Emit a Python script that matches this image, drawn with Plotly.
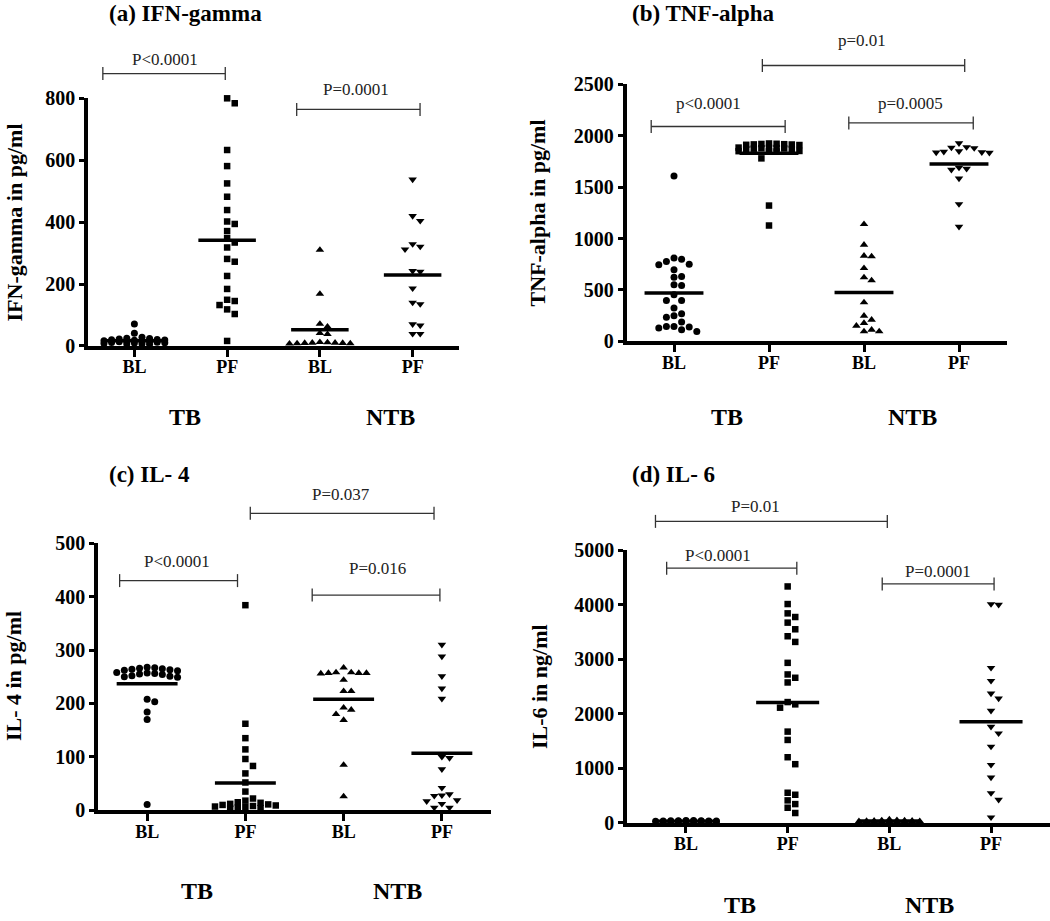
import plotly.graph_objects as go

# ---------------- data ----------------
groups = ["BL", "PF", "BL", "PF"]
cohorts = ["TB", "NTB"]

ifn_tb_bl = [71, 41, 28, 25, 24, 22, 21, 20, 19, 18, 17, 16, 15, 14, 13, 12, 11, 10, 9, 8, 7, 6, 5]
ifn_tb_pf = [800, 784, 633, 581, 525, 482, 439, 402, 394, 371, 348, 334, 318, 281, 272, 226, 184,
             149, 145, 132, 118, 103, 16]
ifn_ntb_bl = [310, 168, 71, 62, 41, 38, 12, 11, 10, 10, 9, 9, 8, 8, 7]
ifn_ntb_pf = [538, 420, 404, 329, 321, 312, 242, 240, 186, 140, 135, 70, 66, 39, 39]
ifn_means = [17, 341, 52, 229]
ifn_pvals = ["P<0.0001", "P=0.0001"]

tnf_tb_bl = [1609, 810, 800, 777, 751, 745, 696, 631, 625, 550, 544, 453, 398, 398, 324, 269, 249,
             236, 188, 146, 146, 139, 130, 113, 97]
tnf_tb_pf = [1925, 1922, 1920, 1918, 1916, 1915, 1912, 1910, 1885, 1882, 1880, 1878, 1876, 1874,
             1872, 1870, 1852, 1850, 1848, 1846, 1780, 1321, 1127]
tnf_ntb_bl = [1140, 939, 832, 826, 712, 622, 593, 379, 249, 210, 178, 152, 113, 97, 97]
tnf_ntb_pf = [1927, 1890, 1885, 1880, 1850, 1845, 1840, 1838, 1835, 1690, 1680, 1670, 1585, 1335, 1115]
tnf_means = [470, 1829, 476, 1726]
tnf_pvals = ["p<0.0001", "p=0.0005", "p=0.01"]

il4_tb_bl = [268, 267, 266, 265, 264, 263, 262, 261, 258, 257, 256, 255, 254, 252, 251, 250, 249,
             208, 203, 184, 170, 11]
il4_tb_pf = [384, 162, 135, 114, 96, 83, 69, 52, 35, 22, 18, 15, 14, 12, 11, 10, 9, 8, 7, 6, 5, 4, 3]
il4_ntb_bl = [267, 258, 258, 257, 257, 257, 256, 244, 223, 223, 192, 188, 180, 169, 85, 26]
il4_ntb_pf = [310, 288, 251, 228, 209, 100, 98, 77, 42, 30, 28, 27, 19, 17, 12, 5, 5]
il4_means = [237, 51, 208, 107]
il4_pvals = ["P<0.0001", "P=0.016", "P=0.037"]

il6_tb_bl = [40, 38, 36, 35, 33, 32, 30, 29, 28, 27, 26, 25, 24, 22, 20, 18, 15]
il6_tb_pf = [4335, 4012, 3841, 3774, 3671, 3549, 3421, 3317, 2933, 2720, 2659, 2573, 2213, 2171,
             2110, 1671, 1518, 1201, 1073, 549, 512, 409, 341, 274, 177]
il6_ntb_bl = [60, 45, 40, 38, 35, 33, 30, 28, 26, 25, 23, 22, 20, 18, 15]
il6_ntb_pf = [4012, 4000, 2841, 2604, 2372, 2280, 2055, 1762, 1640, 1396, 1061, 829, 543, 421, 98]
il6_means = [25, 2207, 30, 1854]
il6_pvals = ["P<0.0001", "P=0.0001", "P=0.01"]

# ---------------- layout / style ----------------
W, H = 1050, 921
FONT = "Liberation Serif"
symbols = ["circle", "square", "triangle-up", "triangle-down"]
msizes = [7, 6.5, 7.5, 7.5]

# vertical calibration of the rendered page (observed offset / scale)
V_OFF, V_SCALE = 9.3, 0.977


def py_paper(py):
    """target pixel row (from top) -> paper fraction (from bottom)"""
    return 1 - (py - V_OFF) / (V_SCALE * H)


panels = [
    dict(title="(a) IFN-gamma", ytitle="IFN-gamma in pg/ml",
         series=[ifn_tb_bl, ifn_tb_pf, ifn_ntb_bl, ifn_ntb_pf], means=ifn_means,
         ymax=800, dtick=200, xrange=[-0.5, 3.5], xpx=(88, 459), ypx=(344.5, 96.7),
         title_px=(107, 12), ytitle_px=(15, 221), tb_px=(185, 416), ntb_px=(390, 416),
         brackets=[(-0.34, 0.98, 880, ifn_pvals[0], 0.33, 926),
                   (1.75, 3.08, 764, ifn_pvals[1], 2.39, 828)]),
    dict(title="(b) TNF-alpha", ytitle="TNF-alpha in pg/ml",
         series=[tnf_tb_bl, tnf_tb_pf, tnf_ntb_bl, tnf_ntb_pf], means=tnf_means,
         ymax=2500, dtick=500, xrange=[-0.5, 3.5], xpx=(626.5, 1006.5), ypx=(340, 82.7),
         title_px=(630, 12), ytitle_px=(538, 212), tb_px=(727, 416), ntb_px=(912, 416),
         brackets=[(-0.24, 1.17, 2090, tnf_pvals[0], 0.36, 2310),
                   (1.84, 3.15, 2125, tnf_pvals[1], 2.49, 2310),
                   (0.93, 3.06, 2683, tnf_pvals[2], 1.98, 2925)]),
    dict(title="(c) IL- 4", ytitle="IL- 4 in pg/ml",
         series=[il4_tb_bl, il4_tb_pf, il4_ntb_bl, il4_ntb_pf], means=il4_means,
         ymax=500, dtick=100, xrange=[-0.5, 3.5], xpx=(98, 491), ypx=(809.3, 542),
         title_px=(107, 473), ytitle_px=(13, 675), tb_px=(197, 890), ntb_px=(397, 890),
         brackets=[(-0.28, 0.92, 430, il4_pvals[0], 0.30, 466),
                   (1.68, 2.98, 403, il4_pvals[1], 2.34, 452),
                   (1.05, 2.92, 556, il4_pvals[2], 1.97, 592)]),
    dict(title="(d) IL- 6", ytitle="IL-6 in ng/ml",
         series=[il6_tb_bl, il6_tb_pf, il6_ntb_bl, il6_ntb_pf], means=il6_means,
         ymax=5000, dtick=1000, xrange=[-0.58, 3.58], xpx=(627, 1050), ypx=(821.7, 549),
         title_px=(630, 473), ytitle_px=(539, 686), tb_px=(740, 904), ntb_px=(929, 904),
         brackets=[(-0.19, 1.09, 4670, il6_pvals[0], 0.31, 4912),
                   (1.93, 3.03, 4381, il6_pvals[1], 2.48, 4612),
                   (-0.30, 1.98, 5529, il6_pvals[2], 0.68, 5803)]),
]


def swarm(values, x_ppu, y_ppu, d_px=7.0, step_px=7.6, kmax=4):
    """Deterministic column-scatter layout: shift colliding points sideways."""
    order = sorted(range(len(values)), key=lambda i: -values[i])
    placed, offs = [], [0.0] * len(values)
    cands = [0]
    for k in range(1, kmax + 1):
        cands += [k, -k]
    for i in order:
        ypx = values[i] * y_ppu
        chosen, best_d, fallback = None, -1, 0
        for c in cands:
            xpx = c * step_px
            dmin = min([((xpx - px) ** 2 + (ypx - py) ** 2) ** 0.5 for px, py in placed] or [1e9])
            if dmin >= d_px:
                chosen = xpx
                break
            if dmin > best_d:
                best_d, fallback = dmin, xpx
        if chosen is None:
            chosen = fallback
        placed.append((chosen, ypx))
        offs[i] = chosen / x_ppu
    return offs


fig = go.Figure()
shapes, annotations = [], []
axis_font = dict(family=FONT, size=20, color="black", weight="bold")

for p_i, p in enumerate(panels):
    n = "" if p_i == 0 else str(p_i + 1)
    xa, ya = "x" + n, "y" + n
    x_ppu = (p["xpx"][1] - p["xpx"][0]) / (p["xrange"][1] - p["xrange"][0])
    y_ppu = (p["ypx"][0] - p["ypx"][1]) / p["ymax"]

    for g, vals in enumerate(p["series"]):
        offs = swarm(vals, x_ppu, y_ppu)
        fig.add_trace(go.Scatter(
            x=[g + o for o in offs], y=vals, mode="markers", xaxis=xa, yaxis=ya,
            marker=dict(symbol=symbols[g], size=msizes[g], color="black", line=dict(width=0)),
            cliponaxis=False, showlegend=False, hoverinfo="skip"))
        shapes.append(dict(type="line", xref=xa, yref=ya, x0=g - 0.31, x1=g + 0.31,
                           y0=p["means"][g], y1=p["means"][g],
                           line=dict(color="black", width=3.5), layer="above"))

    for (bx0, bx1, by, label, tx, ty) in p["brackets"]:
        yd = by / p["ymax"]
        shapes.append(dict(type="line", xref=xa, yref=ya + " domain", x0=bx0, x1=bx1,
                           y0=yd, y1=yd, line=dict(color="#333", width=1.3)))
        for bx in (bx0, bx1):
            shapes.append(dict(type="line", xref=xa, yref=ya + " domain", ysizemode="pixel",
                               yanchor=yd, x0=bx, x1=bx, y0=-6.5, y1=6.5,
                               line=dict(color="#333", width=1.3)))
        annotations.append(dict(text=label, xref=xa, yref=ya + " domain", x=tx,
                                y=ty / p["ymax"], showarrow=False, xanchor="center",
                                yanchor="middle", font=dict(family=FONT, size=17, color="#222")))

    annotations.append(dict(text=p["title"], xref="paper", yref="paper",
                            x=p["title_px"][0] / W, y=py_paper(p["title_px"][1]),
                            xanchor="left", yanchor="middle", showarrow=False,
                            font=dict(family=FONT, size=23, color="black", weight="bold")))
    annotations.append(dict(text=p["ytitle"], xref="paper", yref="paper", textangle=-90,
                            x=p["ytitle_px"][0] / W, y=py_paper(p["ytitle_px"][1]),
                            xanchor="center", yanchor="middle", showarrow=False,
                            font=dict(family=FONT, size=22, color="black", weight="bold")))
    for lbl, pos in zip(cohorts, [p["tb_px"], p["ntb_px"]]):
        annotations.append(dict(text=lbl, xref="paper", yref="paper",
                                x=pos[0] / W, y=py_paper(pos[1]), xanchor="center",
                                yanchor="middle", showarrow=False,
                                font=dict(family=FONT, size=24, color="black", weight="bold")))

    fig.layout["xaxis" + n] = dict(
        domain=[p["xpx"][0] / W, min(p["xpx"][1] / W, 1.0)], range=p["xrange"],
        anchor=ya, tickmode="array", tickvals=[0, 1, 2, 3], ticktext=groups,
        showline=True, linewidth=3.5, linecolor="black", ticks="outside", ticklen=7,
        tickwidth=3, tickcolor="black", showgrid=False, zeroline=False,
        tickfont=dict(family=FONT, size=18, color="black", weight="bold"),
        ticklabelstandoff=-5, fixedrange=True)
    fig.layout["yaxis" + n] = dict(
        domain=[max(py_paper(p["ypx"][0]), 0.0), min(py_paper(p["ypx"][1]), 1.0)],
        range=[0, p["ymax"]],
        anchor=xa, tickmode="linear", tick0=0, dtick=p["dtick"],
        showline=True, linewidth=3.5, linecolor="black", ticks="outside", ticklen=5,
        tickwidth=3, tickcolor="black", showgrid=False, zeroline=False,
        tickfont=axis_font, ticklabelstandoff=0, fixedrange=True)

fig.update_layout(width=W, height=H, margin=dict(l=0, r=0, t=0, b=0),
                  plot_bgcolor="white", paper_bgcolor="white",
                  shapes=shapes, annotations=annotations, showlegend=False)

page_fix = (
    "var d=document.getElementById('{plot_id}');"
    "document.documentElement.style.margin='0';document.documentElement.style.padding='0';"
    "document.documentElement.style.overflow='hidden';"
    "document.body.style.margin='0';document.body.style.padding='0';"
    "document.body.style.overflow='hidden';document.body.style.height='921px';"
    "d.style.position='fixed';d.style.left='0px';d.style.top='0px';"
)
fig.write_html("out.html", config={"displayModeBar": False}, post_script=page_fix)
